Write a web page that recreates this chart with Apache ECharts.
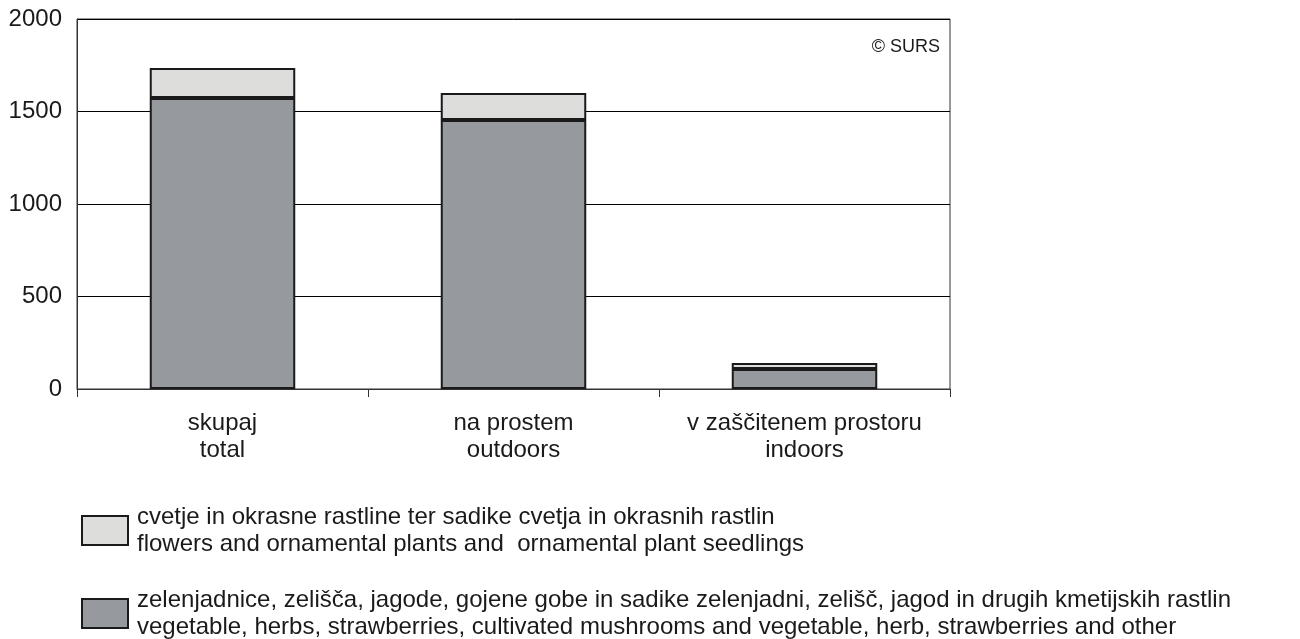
<!DOCTYPE html>
<html><head><meta charset="utf-8">
<script src="https://cdn.jsdelivr.net/npm/echarts@6/dist/echarts.min.js"></script>
<style>html,body{margin:0;padding:0;background:#fff}#c{width:1300px;height:639px}</style>
</head><body><div id="c"></div>
<script>
const categories = ['skupaj\ntotal', 'na prostem\noutdoors', 'v zaščitenem prostoru\nindoors'];
const vegetables = [1573, 1454, 108];
const flowers = [162, 146, 32];
const yTicks = [0, 500, 1000, 1500, 2000];
const nameFlowers = 'cvetje in okrasne rastline ter sadike cvetja in okrasnih rastlin\nflowers and ornamental plants and  ornamental plant seedlings';
const nameVeg = 'zelenjadnice, zelišča, jagode, gojene gobe in sadike zelenjadni, zelišč, jagod in drugih kmetijskih rastlin\nvegetable, herbs, strawberries, cultivated mushrooms and vegetable, herb, strawberries and other';

const chart = echarts.init(document.getElementById('c'));
const font = 'Liberation Sans, Arial, sans-serif';
const legendText = {fontFamily: font, fontSize: 24, color: '#1a1a1a', lineHeight: 27, padding: [9, 0, 0, 4]};
const legendBase = {orient: 'vertical', left: 76, icon: 'rect', itemWidth: 46, itemHeight: 29, textStyle: legendText, selectedMode: false};
chart.setOption({
  animation: false,
  textStyle: {fontFamily: font},
  grid: {left: 77, right: 350, top: 19, bottom: 250, show: true, borderColor: '#333', borderWidth: 1, backgroundColor: 'transparent'},
  xAxis: {
    type: 'category', data: categories,
    axisLine: {lineStyle: {color: '#333', width: 1}},
    axisTick: {show: true, length: 8, lineStyle: {color: '#333'}},
    axisLabel: {interval: 0, fontSize: 24, color: '#1a1a1a', lineHeight: 27, margin: 21}
  },
  yAxis: {
    type: 'value', min: yTicks[0], max: yTicks[yTicks.length - 1], interval: 500,
    axisLine: {show: true, lineStyle: {color: '#333', width: 1}},
    axisTick: {show: false},
    axisLabel: {fontSize: 24, color: '#1a1a1a', margin: 15, formatter: v => String(v)},
    splitLine: {lineStyle: {color: '#000', width: 1}}
  },
  legend: [
    Object.assign({data: [nameFlowers], top: 494}, legendBase),
    Object.assign({data: [nameVeg], top: 577}, legendBase)
  ],
  graphic: [{type: 'text', right: 360, top: 38, style: {text: '© SURS', font: '18px ' + font, fill: '#1a1a1a'}}],
  series: [
    {name: nameVeg, type: 'bar', stack: 's', data: vegetables, barWidth: '50%',
     itemStyle: {color: '#96999d', borderColor: '#1a1a1a', borderWidth: 2}},
    {name: nameFlowers, type: 'bar', stack: 's', data: flowers, barWidth: '50%',
     itemStyle: {color: '#dddddc', borderColor: '#1a1a1a', borderWidth: 2}}
  ]
});
</script></body></html>
